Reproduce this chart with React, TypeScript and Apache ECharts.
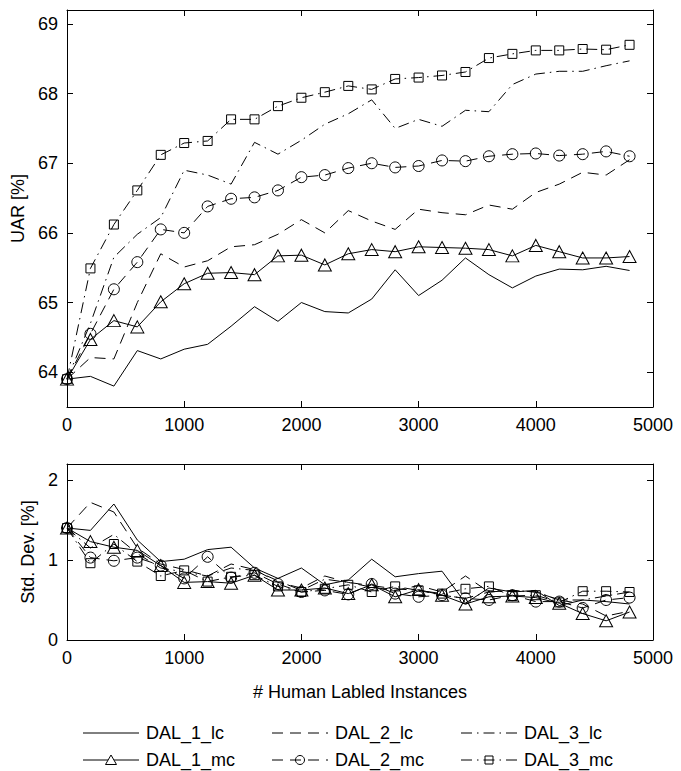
import React, { useEffect, useRef } from "react";
import * as echarts from "echarts";

// x positions: number of human labelled instances
const instances = [0, 200, 400, 600, 800, 1000, 1200, 1400, 1600, 1800, 2000, 2200, 2400, 2600, 2800, 3000, 3200, 3400, 3600, 3800, 4000, 4200, 4400, 4600, 4800];

// UAR [%]
const uarDal1Lc = [63.9, 63.94, 63.8, 64.31, 64.19, 64.33, 64.4, 64.66, 64.94, 64.73, 65.0, 64.87, 64.85, 65.05, 65.47, 65.1, 65.32, 65.64, 65.4, 65.21, 65.38, 65.48, 65.47, 65.52, 65.46];
const uarDal1Mc = [63.9, 64.47, 64.74, 64.65, 65.01, 65.27, 65.42, 65.43, 65.4, 65.67, 65.68, 65.54, 65.7, 65.76, 65.73, 65.8, 65.79, 65.78, 65.76, 65.67, 65.82, 65.73, 65.64, 65.64, 65.66];
const uarDal2Lc = [63.9, 64.21, 64.19, 65.0, 65.7, 65.51, 65.6, 65.8, 65.83, 65.98, 66.19, 66.0, 66.32, 66.17, 66.05, 66.34, 66.29, 66.26, 66.4, 66.34, 66.58, 66.7, 66.87, 66.83, 67.05];
const uarDal2Mc = [63.9, 64.55, 65.19, 65.58, 66.05, 66.0, 66.38, 66.49, 66.51, 66.61, 66.8, 66.83, 66.93, 67.0, 66.94, 66.96, 67.04, 67.03, 67.1, 67.13, 67.14, 67.11, 67.13, 67.17, 67.1];
const uarDal3Lc = [63.9, 64.7, 65.65, 65.98, 66.22, 66.9, 66.83, 66.7, 67.3, 67.13, 67.33, 67.56, 67.71, 67.91, 67.5, 67.63, 67.53, 67.76, 67.74, 68.13, 68.28, 68.32, 68.32, 68.4, 68.47];
const uarDal3Mc = [63.9, 65.49, 66.12, 66.61, 67.12, 67.29, 67.32, 67.63, 67.63, 67.82, 67.94, 68.02, 68.11, 68.06, 68.21, 68.23, 68.26, 68.31, 68.51, 68.57, 68.62, 68.62, 68.64, 68.63, 68.7];

// Std. Dev. [%]
const sdDal1Lc = [1.4, 1.37, 1.7, 1.25, 0.98, 1.01, 1.13, 1.16, 0.9, 0.77, 0.9, 0.69, 0.75, 1.01, 0.79, 0.83, 0.86, 0.46, 0.65, 0.6, 0.62, 0.43, 0.5, 0.48, 0.45];
const sdDal1Mc = [1.4, 1.23, 1.16, 1.12, 0.93, 0.72, 0.73, 0.71, 0.81, 0.625, 0.625, 0.65, 0.58, 0.69, 0.54, 0.63, 0.56, 0.45, 0.54, 0.55, 0.53, 0.46, 0.33, 0.24, 0.35];
const sdDal2Lc = [1.4, 1.72, 1.6, 1.15, 0.95, 0.88, 0.8, 0.95, 0.88, 0.72, 0.65, 0.8, 0.72, 0.66, 0.62, 0.68, 0.6, 0.8, 0.6, 0.62, 0.6, 0.5, 0.45, 0.3, 0.36];
const sdDal2Mc = [1.4, 1.03, 0.99, 1.03, 0.93, 0.77, 1.04, 0.78, 0.84, 0.7, 0.6, 0.62, 0.57, 0.7, 0.58, 0.54, 0.56, 0.52, 0.5, 0.56, 0.48, 0.48, 0.4, 0.5, 0.53];
const sdDal3Lc = [1.4, 1.15, 1.32, 1.08, 0.9, 0.85, 0.8, 0.9, 0.87, 0.74, 0.62, 0.76, 0.72, 0.68, 0.64, 0.62, 0.56, 0.52, 0.6, 0.62, 0.6, 0.5, 0.5, 0.55, 0.6];
const sdDal3Mc = [1.4, 0.96, 1.2, 0.98, 0.8, 0.87, 0.73, 0.79, 0.81, 0.67, 0.6, 0.64, 0.69, 0.6, 0.67, 0.62, 0.58, 0.64, 0.67, 0.55, 0.56, 0.47, 0.61, 0.61, 0.6];

// tick labels
const xTicks = [0, 1000, 2000, 3000, 4000, 5000];
const uarTicks = [64, 65, 66, 67, 68, 69];
const sdTicks = [0, 1, 2];

const seriesNames = ["DAL_1_lc", "DAL_2_lc", "DAL_3_lc", "DAL_1_mc", "DAL_2_mc", "DAL_3_mc"];

const FONT = "'Liberation Sans', Arial, Helvetica, sans-serif";
const BLACK = "#000";

const dashArrays: number[][] = [[], [11, 7], [11, 5, 1.5, 5]];
const dashTypes: any[] = ["solid", dashArrays[1], dashArrays[2]];
const markers = ["triangle", "circle", "rect"];
const markerSizes: any[] = [[13, 12], 11, 9];

function pairs(ys: number[]) {
  return instances.map((x, i) => [x, ys[i]]);
}

function makeSeries(name: string, dal: number, mc: boolean, ys: number[], axisIdx: number) {
  return {
    name,
    type: "line",
    xAxisIndex: axisIdx,
    yAxisIndex: axisIdx,
    data: pairs(ys),
    symbol: mc ? markers[dal] : "none",
    symbolSize: markerSizes[dal],
    showSymbol: mc,
    lineStyle: { color: BLACK, width: 1, type: dashTypes[dal] },
    itemStyle: { color: "rgba(0,0,0,0)", borderColor: BLACK, borderWidth: 1 },
    emphasis: { disabled: true },
    z: mc ? 3 : 2,
  };
}

function xAxisDef(grid: number, pos: "top" | "bottom", labels: boolean, name?: string) {
  return {
    type: "value",
    gridIndex: grid,
    position: pos,
    min: 0,
    max: 5000,
    interval: 1000,
    name: name || "",
    nameLocation: "middle",
    nameGap: 43,
    nameTextStyle: { color: BLACK, fontSize: 18, fontFamily: FONT },
    axisLine: { show: true, onZero: false, lineStyle: { color: BLACK, width: 1 } },
    axisTick: { show: true, inside: true, length: 6, lineStyle: { color: BLACK, width: 1 } },
    axisLabel: {
      show: labels,
      color: BLACK,
      fontSize: 18,
      fontFamily: FONT,
      margin: 9,
      customValues: xTicks,
      formatter: (v: number) => String(v),
    },
    splitLine: { show: false },
  };
}

function yAxisDef(grid: number, pos: "left" | "right", labels: boolean, min: number, max: number, ticks: number[], name: string, nameGap: number) {
  return {
    type: "value",
    gridIndex: grid,
    position: pos,
    min,
    max,
    name,
    nameLocation: "middle",
    nameGap,
    nameTextStyle: { color: BLACK, fontSize: 18, fontFamily: FONT },
    axisLine: { show: true, onZero: false, lineStyle: { color: BLACK, width: 1 } },
    axisTick: { show: true, inside: true, length: 6, lineStyle: { color: BLACK, width: 1 }, customValues: ticks },
    axisLabel: {
      show: labels,
      color: BLACK,
      fontSize: 18,
      fontFamily: FONT,
      margin: 9,
      customValues: ticks,
      formatter: (v: number) => String(v),
    },
    splitLine: { show: false },
  };
}

function legendGraphics() {
  const els: any[] = [];
  const colLeft = [83, 272, 461];
  const rowY = [733, 760];
  const lineLen = 56;
  seriesNames.forEach((name, i) => {
    const dal = i % 3;
    const mc = i >= 3;
    const x0 = colLeft[dal];
    const y = rowY[mc ? 1 : 0];
    const cx = x0 + lineLen / 2;
    els.push({
      type: "line",
      shape: { x1: x0, y1: y, x2: x0 + lineLen, y2: y },
      style: { stroke: BLACK, lineWidth: 1, lineDash: dashArrays[dal].length ? dashArrays[dal] : null, fill: null },
    });
    if (mc) {
      if (dal === 0) {
        els.push({
          type: "polygon",
          shape: { points: [[cx - 5.5, y + 4.5], [cx, y - 5], [cx + 5.5, y + 4.5]] },
          style: { fill: "#fff", stroke: BLACK, lineWidth: 1 },
        });
      } else if (dal === 1) {
        els.push({
          type: "circle",
          shape: { cx, cy: y, r: 4.5 },
          style: { fill: "rgba(0,0,0,0)", stroke: BLACK, lineWidth: 1 },
        });
      } else {
        els.push({
          type: "rect",
          shape: { x: cx - 4, y: y - 4, width: 8, height: 8 },
          style: { fill: "rgba(0,0,0,0)", stroke: BLACK, lineWidth: 1 },
        });
      }
    }
    els.push({
      type: "text",
      x: x0 + lineLen + 7,
      y,
      style: { text: name, fill: BLACK, fontSize: 18, fontFamily: FONT, verticalAlign: "middle", align: "left" },
    });
  });
  return els;
}

export default function App() {
  const ref = useRef<HTMLDivElement>(null);
  useEffect(() => {
    if (!ref.current) return;
    const chart = echarts.init(ref.current, null, { renderer: "svg" });
    const uar = [uarDal1Lc, uarDal2Lc, uarDal3Lc, uarDal1Mc, uarDal2Mc, uarDal3Mc];
    const sd = [sdDal1Lc, sdDal2Lc, sdDal3Lc, sdDal1Mc, sdDal2Mc, sdDal3Mc];
    const series: any[] = [];
    seriesNames.forEach((n, i) => {
      series.push(makeSeries(n, i % 3, i >= 3, uar[i], 0));
    });
    seriesNames.forEach((n, i) => {
      series.push(makeSeries(n, i % 3, i >= 3, sd[i], 2));
    });
    const option: any = {
      animation: false,
      backgroundColor: "#fff",
      textStyle: { fontFamily: FONT, color: BLACK },
      grid: [
        { left: 67, top: 10, width: 586, height: 397, show: false },
        { left: 67, top: 464, width: 586, height: 176, show: false },
      ],
      xAxis: [
        xAxisDef(0, "bottom", true),
        xAxisDef(0, "top", false),
        xAxisDef(1, "bottom", true, "# Human Labled Instances"),
        xAxisDef(1, "top", false),
      ],
      yAxis: [
        yAxisDef(0, "left", true, 63.5, 69.2, uarTicks, "UAR [%]", 36),
        yAxisDef(0, "right", false, 63.5, 69.2, uarTicks, "", 0),
        yAxisDef(1, "left", true, 0, 2.2, sdTicks, "Std. Dev. [%]", 24),
        yAxisDef(1, "right", false, 0, 2.2, sdTicks, "", 0),
      ],
      graphic: legendGraphics(),
      series,
    };
    chart.setOption(option);
    return () => chart.dispose();
  }, []);
  return (
    <div
      ref={ref}
      style={{ position: "fixed", left: 0, top: 0, width: 681, height: 771, background: "#fff" }}
    />
  );
}
